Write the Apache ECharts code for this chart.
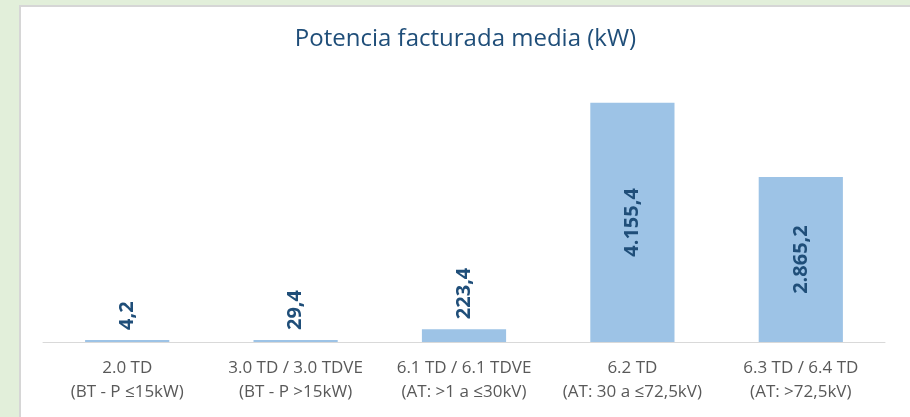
<!DOCTYPE html>
<html>
<head>
<meta charset="utf-8">
<script src="https://cdn.jsdelivr.net/npm/echarts@6/dist/echarts.min.js"></script>
<style>
  html, body { margin: 0; padding: 0; background: #e2efda; width: 910px; height: 417px; overflow: hidden; }
  #chart { position: absolute; left: 19px; top: 5px; width: 891px; height: 412px; background: #fff;
           border-left: 2px solid #d6d6d6; border-top: 2px solid #d6d6d6; box-sizing: border-box; }
</style>
</head>
<body>
<div id="chart"></div>
<script>
const categories = [
    '2.0 TD\n(BT - P ≤15kW)',
    '3.0 TD / 3.0 TDVE\n(BT - P >15kW)',
    '6.1 TD / 6.1 TDVE\n(AT: >1 a ≤30kV)',
    '6.2 TD\n(AT: 30 a ≤72,5kV)',
    '6.3 TD / 6.4 TD\n(AT: >72,5kV)'
];
const potencia = [4.2, 29.4, 223.4, 4155.4, 2865.2];

// formato español: punto de miles, coma decimal
function fmt(v) {
    const parts = v.toFixed(1).split('.');
    parts[0] = parts[0].replace(/\B(?=(\d{3})+(?!\d))/g, '.');
    return parts.join(',');
}

const chart = echarts.init(document.getElementById('chart'));

const option = {
    animation: false,
    title: {
        text: 'Potencia facturada media (kW)',
        left: 'center',
        top: 15,
        textStyle: { color: '#1f4e79', fontSize: 24, fontWeight: 'normal', fontFamily: 'Open Sans' }
    },
    grid: { left: 22, right: 25, top: 76, bottom: 75 },
    xAxis: {
        type: 'category',
        data: categories,
        axisLine: { lineStyle: { color: '#d9d9d9', width: 1 } },
        axisTick: { show: false },
        axisLabel: { color: '#595959', fontSize: 17, lineHeight: 24, margin: 14, fontFamily: 'Open Sans', interval: 0 }
    },
    yAxis: {
        type: 'value',
        min: 0,
        max: 4500,
        show: false,
        splitLine: { show: false }
    },
    series: [{
        type: 'bar',
        barWidth: '50%',
        barMinHeight: 2,
        itemStyle: { color: '#9dc3e6' },
        data: potencia.map(v => ({
            value: v,
            label: { position: v > 1000 ? 'inside' : 'top', distance: 10, align: v > 1000 ? 'center' : 'left' }
        })),
        label: {
            show: true,
            rotate: 90,
            verticalAlign: 'middle',
            color: '#1f4e79',
            fontSize: 20,
            fontWeight: 'bold',
            fontFamily: 'Open Sans',
            formatter: p => fmt(p.value)
        }
    }]
};

chart.setOption(option);
</script>
</body>
</html>
